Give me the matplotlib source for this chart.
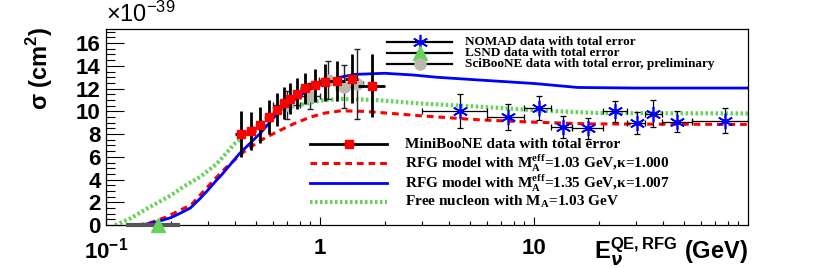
import numpy as np
import matplotlib
matplotlib.use("Agg")
import matplotlib.pyplot as plt
from matplotlib.lines import Line2D

# ---- data (sigma in 1e-39 cm^2, E in GeV)
mb_e = [0.425, 0.475, 0.525, 0.575, 0.625, 0.675, 0.725, 0.775, 0.85, 0.95, 1.05, 1.2, 1.4, 1.75]
mb_ex = [0.025, 0.025, 0.025, 0.025, 0.025, 0.025, 0.025, 0.025, 0.05, 0.05, 0.05, 0.1, 0.1, 0.25]
mb_s = [7.99, 8.26, 8.81, 9.53, 10.13, 10.71, 11.11, 11.55, 12.02, 12.30, 12.54, 12.67, 12.86, 12.26]
mb_es = [2.0, 1.69, 1.56, 1.50, 1.45, 1.40, 1.36, 1.35, 1.37, 1.46, 1.60, 1.79, 2.15, 2.74]

sb_e = [0.70, 0.90, 1.09, 1.29, 1.49]
sb_ex = [0.1, 0.1, 0.1, 0.1, 0.1]
sb_s = [10.55, 11.34, 12.75, 12.16, 12.4]
sb_es = [1.25, 1.15, 1.7, 1.9, 3.05]

nm_e = [4.5, 7.5, 10.5, 13.6, 17.9, 23.9, 30.2, 35.9, 46.7, 77.5]
nm_lo = [3.0, 6.0, 9.0, 12.0, 15.0, 20.9, 27.0, 33.0, 39.5, 54.7]
nm_hi = [6.0, 9.0, 12.0, 15.0, 20.9, 27.0, 33.0, 39.5, 54.7, 100.0]
nm_s = [10.05, 9.47, 10.26, 8.64, 8.5, 10.0, 9.0, 9.8, 9.1, 9.17]
nm_es = [1.5, 1.15, 1.05, 0.95, 0.9, 0.9, 0.95, 1.2, 0.95, 1.1]

lsnd_e = [0.175]
lsnd_lo = [0.124]
lsnd_hi = [0.222]
lsnd_s = [0.0]

# model curves
rfg1_e = [0.14, 0.16, 0.19, 0.25, 0.316, 0.36, 0.437, 0.52, 0.627, 0.75, 0.9, 1.05, 1.25, 1.6, 2.05, 3.0, 5.6, 10, 18, 100]
rfg1_s = [0.0, 0.2, 0.7, 1.8, 3.9, 5.0, 6.4, 7.4, 8.2, 8.9, 9.5, 9.85, 10.05, 10.0, 9.85, 9.6, 9.25, 9.05, 8.9, 8.85]

rfg2_e = [0.144, 0.17, 0.2, 0.222, 0.247, 0.275, 0.296, 0.328, 0.34, 0.42, 0.524, 0.65, 0.806, 1.0, 1.2, 1.45, 2.0, 2.7, 3.5, 5.6, 10, 16, 30, 100]
rfg2_s = [0.0, 0.25, 0.65, 1.05, 1.5, 2.35, 3.0, 3.96, 4.25, 6.3, 8.06, 10.1, 11.4, 12.45, 12.95, 13.25, 13.35, 13.2, 13.0, 12.75, 12.45, 12.1, 12.05, 12.05]

free_e = [0.11, 0.13, 0.16, 0.2, 0.229, 0.275, 0.329, 0.4, 0.455, 0.55, 0.65, 0.82, 1.0, 1.25, 1.8, 2.9, 5.7, 10, 20, 100]
free_s = [0.0, 0.6, 1.6, 2.6, 3.37, 4.25, 5.4, 7.2, 8.0, 9.3, 10.2, 10.6, 10.95, 11.1, 11.0, 10.7, 10.4, 10.1, 9.85, 9.82]

GREEN = "#66d25a"
GREY = "#bdb8ae"

plt.rcParams['font.family'] = ['Liberation Sans', 'DejaVu Sans']
plt.rcParams['font.weight'] = 'bold'

fig = plt.figure(figsize=(8.3, 2.68), dpi=100)
ax = fig.add_axes([0.128, 0.160, 0.7735, 0.7313])

ax.plot(free_e, free_s, color=GREEN, lw=3, ls=(0, (0.6, 0.6)), zorder=2)
ax.plot(rfg1_e, rfg1_s, color="red", lw=2.2, ls=(0, (2.2, 1.6)), zorder=2)
ax.plot(rfg2_e, rfg2_s, color="blue", lw=2, zorder=2)

# LSND
ax.errorbar(lsnd_e, lsnd_s, xerr=[np.subtract(lsnd_e, lsnd_lo), np.subtract(lsnd_hi, lsnd_e)],
            fmt='^', color="#555555", ms=10, mfc=GREEN, mec=GREEN, elinewidth=3, capsize=0,
            zorder=5, clip_on=False)

# NOMAD
ax.errorbar(nm_e, nm_s, yerr=nm_es, xerr=[np.subtract(nm_e, nm_lo), np.subtract(nm_hi, nm_e)],
            fmt='none', ecolor="black", elinewidth=0.9, capsize=2, capthick=0.9, zorder=4)
ax.plot(nm_e, nm_s, ls='none', marker=(6, 2, 0), ms=11, mew=1.2, color="blue", zorder=5)

# SciBooNE
ax.errorbar(sb_e, sb_s, yerr=sb_es, xerr=sb_ex, fmt='o', ms=8, mfc=GREY, mec=GREY,
            ecolor="#222222", elinewidth=1, capsize=2, capthick=1, zorder=4)

# MiniBooNE
ax.errorbar(mb_e, mb_s, yerr=mb_es, xerr=mb_ex, fmt='s', ms=6, mfc="red", mec="red",
            ecolor="black", elinewidth=2, capsize=0, zorder=6)

ax.set_xscale('log')
ax.set_xlim(0.1, 100)
ax.set_ylim(0, 17.23)
ax.set_xticks([0.1, 1, 10])
ax.set_xticklabels([r'$\mathregular{10^{-1}}$', '1', '10'])
ax.set_yticks(np.arange(0, 17, 2))
ax.yaxis.set_minor_locator(matplotlib.ticker.MultipleLocator(0.5))
ax.tick_params(axis='both', which='both', direction='in', labelsize=16)
ax.tick_params(axis='y', which='major', length=13, width=0.8, pad=4)
ax.tick_params(axis='y', which='minor', length=6.5, width=0.8)
ax.tick_params(axis='x', which='major', length=5.5, width=0.8, pad=9)
ax.tick_params(axis='x', which='minor', length=3, width=0.8)
ax.xaxis.set_minor_formatter(matplotlib.ticker.NullFormatter())
for sp in ax.spines.values():
    sp.set_linewidth(0.9)

# axis titles
fig.text(0.048, 1 - 68 / 268, 'σ (cm$^\\mathregular{2}$)', rotation=90, ha='center', va='center',
         fontsize=17, fontweight='bold')
fig.text(106 / 830, 1 - 27 / 268, r'$\mathregular{\times10^{-39}}$', ha='left', va='bottom',
         fontsize=17, fontweight='normal')
fig.text(748 / 830, 1 - 259 / 268, r'E$_\nu^\mathregular{QE,RFG}$ (GeV)', ha='right', va='baseline',
         fontsize=17, fontweight='bold')

# legends (drawn by hand, ROOT style)
serif = dict(family=['Liberation Serif', 'DejaVu Serif'], fontweight='bold')


def leg_row(x0, x1, y, text, size, gap, line, marker=None):
    ax.add_line(Line2D([x0, x1], [y, y], transform=ax.transAxes, clip_on=False, zorder=7, **line))
    if marker:
        ax.add_line(Line2D([(x0 + x1) / 2], [y], transform=ax.transAxes, clip_on=False,
                           ls='none', zorder=8, **marker))
    ax.text(x1 + gap, y, text, transform=ax.transAxes, ha='left', va='center',
            fontsize=size, **serif)


def ay(py):
    return (225 - py) / 196.0


def axx(px):
    return (px - 106) / 642.0


blk = dict(color='black', lw=1.6)
leg_row(axx(387), axx(452), ay(42), 'NOMAD data with total error', 9.5, 0.02, blk,
        dict(marker=(6, 2, 0), ms=11, mew=1.2, color='blue'))
leg_row(axx(387), axx(452), ay(53), 'LSND data with total error', 9.5, 0.02, blk,
        dict(marker='^', ms=10, color=GREEN))
leg_row(axx(387), axx(452), ay(64), 'SciBooNE data with total error, preliminary', 9.5, 0.02, blk,
        dict(marker='o', ms=8, color=GREY))

LS = 11
leg_row(axx(310), axx(387), ay(144), 'MiniBooNE data with total error', LS, 0.028,
        dict(color='black', lw=2), dict(marker='s', ms=6, color='red'))
leg_row(axx(310), axx(387), ay(162.5), r'RFG model with M$_\mathregular{A}^\mathregular{eff}$=1.03 GeV,κ=1.000', LS, 0.028,
        dict(color='red', lw=2.2, ls=(0, (2.2, 1.6))))
leg_row(axx(310), axx(387), ay(182.5), r'RFG model with M$_\mathregular{A}^\mathregular{eff}$=1.35 GeV,κ=1.007', LS, 0.028,
        dict(color='blue', lw=2))
leg_row(axx(310), axx(387), ay(202), r'Free nucleon with M$_\mathregular{A}$=1.03 GeV', LS, 0.028,
        dict(color=GREEN, lw=3, ls=(0, (0.6, 0.6))))

fig.savefig('out.png', dpi=100)
